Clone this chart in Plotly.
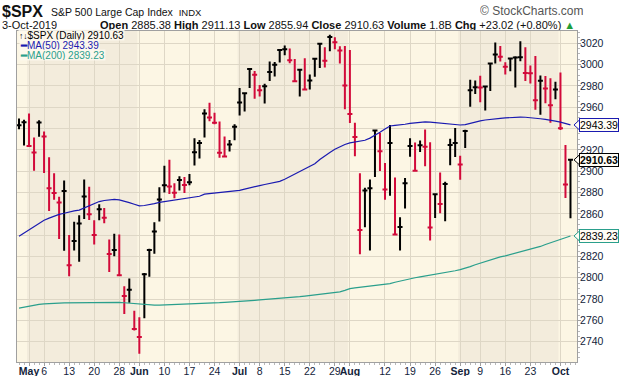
import plotly.graph_objects as go

# ---------------- data ----------------
dates = (
    ["2019-04-%02d" % d for d in [29, 30]]
    + ["2019-05-%02d" % d for d in [1, 2, 3, 6, 7, 8, 9, 10, 13, 14, 15, 16, 17, 20, 21, 22, 23, 24, 28, 29, 30, 31]]
    + ["2019-06-%02d" % d for d in [3, 4, 5, 6, 7, 10, 11, 12, 13, 14, 17, 18, 19, 20, 21, 24, 25, 26, 27, 28]]
    + ["2019-07-%02d" % d for d in [1, 2, 3, 5, 8, 9, 10, 11, 12, 15, 16, 17, 18, 19, 22, 23, 24, 25, 26, 29, 30, 31]]
    + ["2019-08-%02d" % d for d in [1, 2, 5, 6, 7, 8, 9, 12, 13, 14, 15, 16, 19, 20, 21, 22, 23, 26, 27, 28, 29, 30]]
    + ["2019-09-%02d" % d for d in [3, 4, 5, 6, 9, 10, 11, 12, 13, 16, 17, 18, 19, 20, 23, 24, 25, 26, 27, 30]]
    + ["2019-10-%02d" % d for d in [1, 2, 3]]
)

high = [2949.52, 2948.22, 2954.13, 2931.68, 2947.85, 2937.32, 2913.03, 2897.96, 2875.97, 2891.31,
        2840.19, 2852.54, 2858.68, 2892.15, 2885.48, 2853.86, 2868.88, 2865.47, 2836.03, 2841.36,
        2840.51, 2792.03, 2799.31, 2768.98, 2763.07, 2804.49, 2827.28, 2852.10, 2884.97, 2905.14,
        2910.61, 2888.57, 2895.24, 2894.45, 2897.27, 2930.79, 2929.30, 2958.06, 2964.15, 2954.92,
        2946.50, 2932.59, 2929.26, 2943.98, 2977.93, 2973.21, 2995.84, 2994.03, 2980.76, 2981.90,
        3002.98, 3002.33, 3013.92, 3017.80, 3015.02, 3005.26, 2995.11, 3006.02, 2990.71, 3005.90,
        3019.59, 3016.31, 3027.98, 3025.61, 3017.19, 3017.40, 3013.59, 2945.50, 2898.07, 2884.40,
        2892.17, 2938.72, 2935.75, 2907.58, 2943.31, 2894.16, 2856.67, 2893.63, 2931.00, 2927.00,
        2928.73, 2939.08, 2927.22, 2879.27, 2898.79, 2890.03, 2930.50, 2940.43, 2914.39, 2938.84,
        2985.86, 2985.03, 2989.43, 2979.39, 3000.93, 3020.74, 3017.33, 3002.19, 3006.21, 3007.83,
        3021.99, 3016.37, 2999.15, 3007.98, 2989.82, 2989.20, 2987.28, 2983.85, 2992.53, 2924.59,
        2911.13]
low = [2939.35, 2924.11, 2923.36, 2900.50, 2932.28, 2898.21, 2862.60, 2873.28, 2836.40, 2825.39,
       2801.43, 2825.51, 2815.08, 2855.08, 2854.23, 2831.29, 2854.03, 2851.11, 2805.49, 2820.19,
       2801.58, 2766.06, 2776.51, 2750.52, 2728.81, 2762.06, 2800.92, 2822.45, 2852.87, 2880.05,
       2878.53, 2874.68, 2881.99, 2879.62, 2886.89, 2905.44, 2912.00, 2931.50, 2946.87, 2944.05,
       2912.66, 2912.99, 2918.57, 2929.05, 2952.22, 2955.92, 2977.96, 2967.97, 2970.09, 2963.44,
       2984.62, 2988.80, 3001.87, 3008.77, 3001.15, 2984.25, 2970.00, 2975.86, 2976.65, 2988.56,
       2996.82, 2997.24, 3012.59, 3014.30, 3000.94, 2958.08, 2945.23, 2914.11, 2822.12, 2847.42,
       2825.71, 2894.47, 2900.15, 2873.14, 2877.05, 2839.64, 2825.51, 2864.99, 2913.48, 2899.60,
       2917.91, 2904.51, 2834.97, 2856.00, 2860.59, 2853.05, 2905.67, 2913.32, 2891.85, 2921.86,
       2960.40, 2972.51, 2964.78, 2957.01, 2975.31, 3000.92, 3002.90, 2990.67, 2993.73, 2978.57,
       3003.16, 2984.68, 2982.23, 2957.73, 2952.86, 2963.71, 2945.53, 2967.54, 2938.70, 2874.93,
       2855.94]
close = [2943.03, 2945.83, 2923.73, 2917.52, 2945.64, 2932.47, 2884.05, 2879.42, 2870.72, 2881.40,
         2811.87, 2834.41, 2850.96, 2876.32, 2859.53, 2840.23, 2864.36, 2856.27, 2822.24, 2826.06,
         2802.39, 2783.02, 2788.86, 2752.06, 2744.45, 2803.27, 2826.15, 2843.49, 2873.34, 2886.73,
         2885.72, 2879.84, 2891.64, 2886.98, 2889.67, 2917.75, 2926.46, 2954.18, 2950.46, 2945.35,
         2917.38, 2913.78, 2924.92, 2941.76, 2964.33, 2973.01, 2995.82, 2990.41, 2975.95, 2979.63,
         2993.07, 2999.91, 3013.77, 3014.30, 3004.04, 2984.42, 2995.11, 2976.61, 2985.03, 3005.47,
         3019.56, 3003.67, 3025.86, 3020.97, 3013.18, 2980.38, 2953.56, 2932.05, 2844.74, 2881.77,
         2883.98, 2938.09, 2918.65, 2882.70, 2926.32, 2840.60, 2847.60, 2888.68, 2923.65, 2900.51,
         2924.43, 2922.95, 2847.11, 2878.38, 2869.16, 2887.94, 2924.58, 2926.46, 2906.27, 2937.78,
         2976.00, 2978.71, 2978.43, 2979.39, 3000.93, 3009.57, 3007.39, 2997.96, 3005.70, 3006.73,
         3006.79, 2992.07, 2991.78, 2966.60, 2984.87, 2977.62, 2961.79, 2976.74, 2940.25, 2887.61,
         2910.63]

ma50 = [2839.0, 2842.0, 2845.0, 2848.0, 2851.0, 2854.0, 2856.0, 2858.0, 2859.5, 2860.5,
        2862.0, 2862.8, 2863.5, 2865.5, 2868.0, 2870.0, 2871.5, 2872.5, 2873.3, 2873.6,
        2873.0, 2872.0, 2870.5, 2869.0, 2867.5, 2867.8, 2868.5, 2869.5, 2870.8, 2871.5,
        2872.0, 2872.5, 2873.0, 2873.8, 2874.5, 2875.5, 2876.5, 2878.5, 2879.0, 2879.3,
        2879.5, 2880.0, 2880.5, 2881.0, 2882.0, 2883.2, 2884.5, 2885.5, 2886.5, 2887.5,
        2888.3, 2889.0, 2890.5, 2892.5, 2895.0, 2897.5, 2899.5, 2902.0, 2904.5, 2907.0,
        2911.0, 2914.5, 2917.5, 2920.5, 2923.0, 2925.0, 2926.5, 2927.5, 2928.0, 2929.0,
        2931.0, 2933.5, 2936.5, 2939.5, 2942.4, 2943.0, 2943.3, 2944.0, 2944.8, 2945.5,
        2946.2, 2946.3, 2946.0, 2945.5, 2945.0, 2944.3, 2943.8, 2943.4, 2943.3, 2943.6,
        2945.0, 2946.2, 2947.2, 2948.0, 2948.7, 2949.2, 2949.6, 2950.0, 2950.4, 2950.6,
        2950.7, 2950.6, 2950.3, 2949.8, 2949.2, 2948.6, 2948.0, 2947.0, 2946.0, 2944.8,
        2943.39]
ma200 = [2771.5, 2772.5, 2773.5, 2774.3, 2775.0, 2775.6, 2776.0, 2776.2, 2776.3, 2776.4,
         2776.5, 2776.5, 2776.6, 2776.6, 2776.6, 2776.7, 2776.8, 2777.0, 2777.1, 2777.2,
         2777.0, 2776.6, 2776.1, 2775.6, 2775.1, 2774.7, 2774.4, 2774.3, 2774.4, 2774.6,
         2774.8, 2775.0, 2775.1, 2775.2, 2775.3, 2775.3, 2775.4, 2775.5, 2776.0, 2776.4,
         2776.7, 2777.0, 2777.2, 2777.4, 2777.7, 2778.0, 2778.4, 2778.8, 2779.2, 2779.5,
         2779.8, 2780.1, 2780.5, 2780.9, 2781.3, 2781.7, 2782.3, 2782.8, 2783.3, 2783.8,
         2784.3, 2784.8, 2785.3, 2785.8, 2786.8, 2788.2, 2789.8, 2790.5, 2791.1, 2791.6,
         2792.1, 2792.6, 2793.0, 2793.5, 2794.5, 2795.8, 2797.0, 2798.1, 2799.0, 2800.0,
         2800.8, 2801.6, 2802.5, 2803.3, 2803.6, 2804.4, 2805.5, 2806.6, 2807.7, 2808.8,
         2810.5, 2812.2, 2813.8, 2815.4, 2816.9, 2818.4, 2819.6, 2820.5, 2821.7, 2823.0,
         2824.2, 2825.3, 2826.3, 2827.8, 2829.4, 2831.2, 2832.9, 2834.4, 2836.0, 2837.6,
         2839.23]

tick_dates = ["2019-05-01", "2019-05-06", "2019-05-13", "2019-05-20", "2019-05-28",
              "2019-06-03", "2019-06-10", "2019-06-17", "2019-06-24",
              "2019-07-01", "2019-07-08", "2019-07-15", "2019-07-22", "2019-07-29",
              "2019-08-01", "2019-08-12", "2019-08-19", "2019-08-26",
              "2019-09-03", "2019-09-09", "2019-09-16", "2019-09-23", "2019-10-01"]
tick_labels = ["May", "6", "13", "20", "28", "Jun", "10", "17", "24", "Jul", "8", "15", "22", "29",
               "Aug", "12", "19", "26", "Sep", "9", "16", "23", "Oct"]
price_ticks = [2740, 2760, 2780, 2800, 2820, 2840, 2860, 2880, 2900, 2920, 2940, 2960, 2980, 3000, 3020]

symbol = "$SPX"
full_name = "S&P 500 Large Cap Index"
exchange = "INDX"
last_date = "3-Oct-2019"
last_open = 2885.38
last_volume = "1.8B"
last_chg = 23.02
last_chg_pct = 0.80

# ---------------- styling ----------------
W, H = 620, 376
ML, MR, MT, MB = 17, 43, 31, 14
PW, PH = W - ML - MR, H - MT - MB
FONT = "Liberation Sans, Arial, sans-serif"
BG_LIGHT = "#FCF6E4"
BG_DARK = "#F3ECDC"
GRID = "#DED7C6"
UP = "#000000"
DOWN = "#D20A3A"
C50 = "#1A1AB0"
C200 = "#2A9F8C"
TXT = "#13233A"
TAG_BG = "#FFFDF5"


def px(x):
    return (x - ML) / PW


def py(y):
    return 1 - (y - MT) / PH


idx = list(range(len(dates)))
month_names = {"May", "Jun", "Jul", "Aug", "Sep", "Oct"}
tickvals = [dates.index(d) for d in tick_dates]
ticktext = [("<b>%s</b>" % t) if t in month_names else t for t in tick_labels]

x_range = [-0.4, 111.3]
y_range = [2721, 3031.5]
pts_per_px = (y_range[1] - y_range[0]) / PH

# month shading (alternating)
months = [d[:7] for d in dates]
starts = [i for i in idx if i == 0 or months[i] != months[i - 1]]
shapes = []
for k, s in enumerate(starts):
    m = int(months[s][5:7])
    x0 = x_range[0] if k == 0 else s - 0.4
    x1 = x_range[1] if k == len(starts) - 1 else starts[k + 1] - 0.4
    if m % 2 == 1:
        shapes.append(dict(type="rect", xref="x", yref="paper", x0=x0, x1=x1, y0=0, y1=1,
                           fillcolor=BG_DARK, line=dict(width=0), layer="below"))

fig = go.Figure()
fig.add_trace(go.Scatter(x=idx, y=ma200, mode="lines", line=dict(color=C200, width=1.2),
                         hoverinfo="skip", name="MA(200)"))
fig.add_trace(go.Scatter(x=idx, y=ma50, mode="lines", line=dict(color=C50, width=1.2),
                         hoverinfo="skip", name="MA(50)"))
# HLC bars: close tick drawn centred (open set equal to close), colour by change in close
fig.add_trace(go.Ohlc(x=idx, open=close, high=high, low=low, close=close,
                      increasing=dict(line=dict(color=UP, width=2)),
                      decreasing=dict(line=dict(color=DOWN, width=2)),
                      tickwidth=0.5, name=symbol))

ann = []
# header line 1
ann.append(dict(x=px(1), y=py(11), xref="paper", yref="paper", xanchor="left", yanchor="middle",
                text="<b>%s</b>" % symbol, font=dict(size=16, color="#111111", family=FONT),
                showarrow=False, borderpad=0, height=16))
ann.append(dict(x=px(50), y=py(12), xref="paper", yref="paper", xanchor="left", yanchor="middle",
                text=full_name + "&nbsp;&nbsp;<span style='font-size:9.5px'>%s</span>" % exchange,
                font=dict(size=10.5, color="#111111", family=FONT), showarrow=False, borderpad=0,
                height=12))
ann.append(dict(x=px(585), y=py(11), xref="paper", yref="paper", xanchor="right", yanchor="middle",
                text="© StockCharts.com", font=dict(size=12, color="#555555", family=FONT),
                showarrow=False, borderpad=0, height=12))
# header line 2
ann.append(dict(x=px(1), y=py(24), xref="paper", yref="paper", xanchor="left", yanchor="middle",
                text=last_date, font=dict(size=11, color="#111111", family=FONT),
                showarrow=False, borderpad=0, height=11))
line2 = ("<b>Open</b> %.2f <b>High</b> %.2f <b>Low</b> %.2f <b>Close</b> %.2f "
         "<b>Volume</b> %s <b>Chg</b> %+.2f (%+.2f%%) <span style='color:#1E9E3A'>▲</span>") % (
    last_open, high[-1], low[-1], close[-1], last_volume, last_chg, last_chg_pct)
ann.append(dict(x=px(576), y=py(24), xref="paper", yref="paper", xanchor="right", yanchor="middle",
                text=line2, font=dict(size=11, color="#111111", family=FONT),
                showarrow=False, borderpad=0, height=11))

# in-plot legend
LEG_BG = "rgba(253,249,238,0.85)"
ann.append(dict(x=px(18), y=py(35), xref="paper", yref="paper", xanchor="left", yanchor="middle",
                text="<span style='font-size:8.5px'>↑↓</span>%s (Daily) %.2f" % (symbol, close[-1]),
                font=dict(size=10, color="#000000", family=FONT), showarrow=False,
                bgcolor=LEG_BG, borderpad=0, height=10))
ann.append(dict(x=px(19), y=py(45), xref="paper", yref="paper", xanchor="left", yanchor="middle",
                text="<b>━</b>MA(50) %.2f" % ma50[-1],
                font=dict(size=10, color=C50, family=FONT), showarrow=False,
                bgcolor=LEG_BG, borderpad=0, height=10))
ann.append(dict(x=px(19), y=py(55), xref="paper", yref="paper", xanchor="left", yanchor="middle",
                text="<b>━</b>MA(200) %.2f" % ma200[-1],
                font=dict(size=10, color=C200, family=FONT), showarrow=False,
                bgcolor=LEG_BG, borderpad=0, height=10))

# right-axis value tags with a small pointer toward the plot
for val, col, bold in [(ma50[-1], C50, False), (close[-1], "#000000", True), (ma200[-1], C200, False)]:
    txt = ("<b>%.2f</b>" if bold else "%.2f") % val
    ann.append(dict(x=1, xref="paper", y=val, yref="y", xanchor="left", yanchor="middle",
                    text=txt, font=dict(size=10.5, color="#000000", family=FONT),
                    showarrow=False, xshift=2, bgcolor=TAG_BG, bordercolor=col,
                    borderwidth=1, borderpad=0))
    half = 5 * pts_per_px
    xt, xb = 1 - 3.0 / PW, 1 + 2.5 / PW
    shapes.append(dict(type="path", xref="paper", yref="y",
                       path="M %.5f %.3f L %.5f %.3f L %.5f %.3f" % (xb, val + half, xt, val, xb, val - half),
                       line=dict(color=col, width=1), fillcolor=TAG_BG, layer="above"))

fig.update_layout(
    width=W, height=H, margin=dict(l=ML, r=MR, t=MT, b=MB, pad=0, autoexpand=False),
    paper_bgcolor="#FFFFFF", plot_bgcolor=BG_LIGHT, showlegend=False,
    shapes=shapes, annotations=ann, font=dict(family=FONT, color=TXT),
    xaxis=dict(range=x_range, tickmode="array", tickvals=tickvals, ticktext=ticktext,
               automargin=False, tickangle=0, showgrid=True, gridcolor=GRID, gridwidth=1,
               zeroline=False, showline=True, mirror=True, linecolor="#A0A0A0", linewidth=1,
               ticks="outside", ticklen=3, tickcolor="#A0A0A0", ticklabelstandoff=-4,
               minor=dict(ticks="outside", ticklen=2, dtick=1, tick0=0, tickcolor="#B8B8B8", showgrid=False),
               tickfont=dict(size=10.5, color=TXT, family=FONT),
               rangeslider=dict(visible=False), fixedrange=True),
    yaxis=dict(range=y_range, side="right", tickmode="array", tickvals=price_ticks,
               automargin=False, showgrid=True, gridcolor=GRID, gridwidth=1, zeroline=False,
               showline=True, mirror=True, linecolor="#A0A0A0", linewidth=1,
               ticks="outside", ticklen=3, tickcolor="#A0A0A0", ticklabelstandoff=-3,
               minor=dict(ticks="outside", ticklen=2, dtick=5, tickcolor="#B8B8B8", showgrid=False),
               tickfont=dict(size=10.5, color=TXT, family=FONT), fixedrange=True),
)

fig.write_html("out.html", config={"displayModeBar": False, "staticPlot": True},
               post_script="document.body.style.margin='0';document.body.style.overflow='hidden';")
